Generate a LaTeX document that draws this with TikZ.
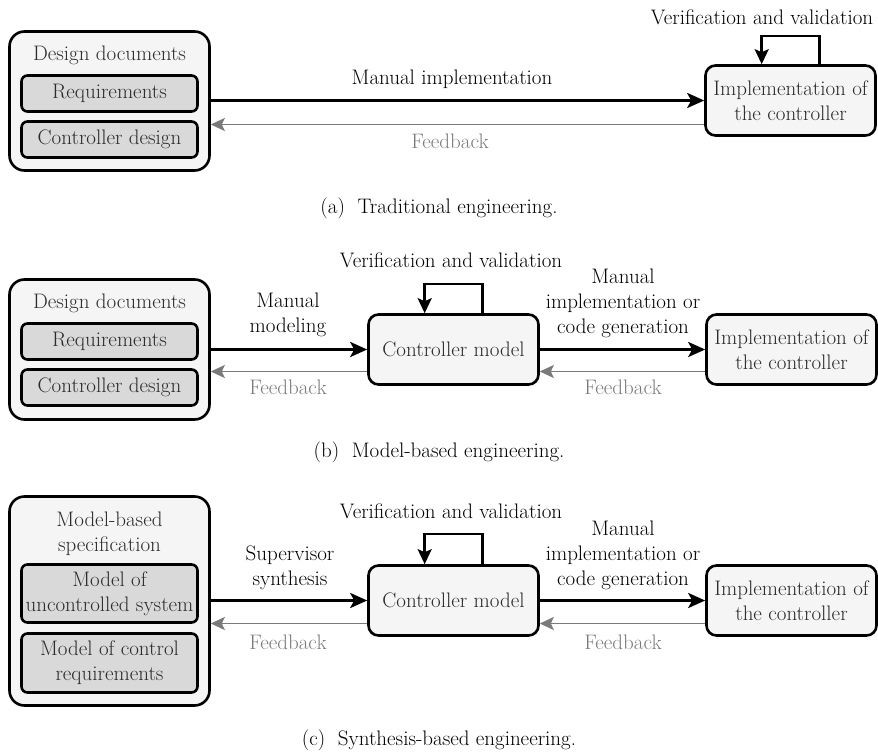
\documentclass[tikz,border=0pt]{standalone}
\usetikzlibrary{arrows.meta,calc}
\definecolor{boxfill}{HTML}{F5F5F5}
\definecolor{partfill}{HTML}{D9D9D9}
\definecolor{boxtext}{HTML}{2B2B2B}
\definecolor{fbgray}{HTML}{7A7A7A}

\tikzset{
  txt/.style={font=\fontsize{21}{25}\selectfont, align=center, inner sep=0pt},
  outerbox/.style={draw, line width=2.6pt, fill=boxfill, rounded corners=15pt,
    minimum width=200pt, inner sep=0pt},
  partbox/.style={txt, draw, line width=2.6pt, fill=partfill, rounded corners=6pt,
    minimum width=176pt, text=boxtext},
  stagebox/.style={txt, draw, line width=2.6pt, fill=boxfill, rounded corners=10pt,
    minimum width=170pt, minimum height=70pt, text=boxtext},
  titletxt/.style={txt, text=boxtext},
  flowlbl/.style={txt},
  fblbl/.style={txt, text=fbgray},
  caption/.style={txt},
  flow/.style={line width=2.8pt, -{Stealth[length=17pt,width=15pt,inset=4pt]}},
  fb/.style={line width=1.6pt, draw=fbgray, fill=fbgray,
    -{Stealth[length=14pt,width=13pt,inset=3pt]}},
  selfloop/.style={line width=2.4pt, -{Stealth[length=15pt,width=14pt,inset=3pt]}},
}

\begin{document}
\begin{tikzpicture}[x=1pt, y=-1pt]
\useasboundingbox (0,0) rectangle (878,752);

% ---------------- (a) traditional engineering ----------------
\node[outerbox, minimum height=139pt] (docA) at (109.5,101) {};
\node[titletxt] (docAt) at (109.5,55) {Design documents};
\node[partbox, minimum height=36pt] (reqA) at (109.5,93.5) {Requirements};
\node[partbox, minimum height=36pt] (desA) at (109.5,139.5) {Controller design};
\node[stagebox] (implA) at (790.5,100.5) {Implementation of\\the controller};

\draw[flow] (implA.west -| docA.east) -- (implA.west);
\node[flowlbl] (mA) at (452,79) {Manual implementation};
\draw[fb] ([yshift=-24pt]implA.west) -- ([yshift=-24pt]implA.west -| docA.east);
\node[fblbl] (fA) at (450,141) {Feedback};

\draw[selfloop] ($(implA.north west)!0.667!(implA.north east)$) -- ++(0,-28)
  -| ($(implA.north west)!0.333!(implA.north east)$);
\node[flowlbl] (vA) at (762,17) {Verification and validation};

\node[caption] (capA) at (439,208) {(a)\hspace{0.6em}Traditional engineering.};

% ---------------- (b) model-based engineering ----------------
\node[outerbox, minimum height=140pt] (docB) at (109.5,349.5) {};
\node[titletxt] (docBt) at (109.5,303) {Design documents};
\node[partbox, minimum height=36pt] (reqB) at (109.5,341.5) {Requirements};
\node[partbox, minimum height=36pt] (desB) at (109.5,387.5) {Controller design};
\node[stagebox] (ctrlB) at (453.5,349.5) {Controller model};
\node[stagebox] (implB) at (791.5,349.5) {Implementation of\\the controller};

\draw[flow] (ctrlB.west -| docB.east) -- (ctrlB.west);
\node[flowlbl] (mB) at (288,315) {Manual\\modeling};
\draw[fb] ([yshift=-22pt]ctrlB.west) -- ([yshift=-22pt]ctrlB.west -| docB.east);
\node[fblbl] (fB1) at (288,387) {Feedback};

\draw[flow] (ctrlB.east) -- (implB.west);
\node[flowlbl] (gB) at (623,303) {Manual\\implementation or\\code generation};
\draw[fb] ([yshift=-22pt]implB.west) -- ([yshift=-22pt]implB.west -| ctrlB.east);
\node[fblbl] (fB2) at (623,387) {Feedback};

\draw[selfloop] ($(ctrlB.north west)!0.667!(ctrlB.north east)$) -- ++(0,-29)
  -| ($(ctrlB.north west)!0.333!(ctrlB.north east)$);
\node[flowlbl] (vB) at (451,260) {Verification and validation};

\node[caption] (capB) at (439,452) {(b)\hspace{0.6em}Model-based engineering.};

% ---------------- (c) synthesis-based engineering ----------------
\node[outerbox, minimum height=209pt] (docC) at (109.5,601) {};
\node[titletxt] (docCt) at (109.5,533.5) {Model-based\\specification};
\node[partbox, minimum height=58pt] (plantC) at (109.5,593.5) {Model of\\uncontrolled system};
\node[partbox, minimum height=59pt] (reqC) at (109.5,663) {Model of control\\requirements};
\node[stagebox] (ctrlC) at (453.5,600.5) {Controller model};
\node[stagebox] (implC) at (791.5,600.5) {Implementation of\\the controller};

\draw[flow] (ctrlC.west -| docC.east) -- (ctrlC.west);
\node[flowlbl] (sC) at (290,568) {Supervisor\\synthesis};
\draw[fb] ([yshift=-23pt]ctrlC.west) -- ([yshift=-23pt]ctrlC.west -| docC.east);
\node[fblbl] (fC1) at (288,642) {Feedback};

\draw[flow] (ctrlC.east) -- (implC.west);
\node[flowlbl] (gC) at (623,555) {Manual\\implementation or\\code generation};
\draw[fb] ([yshift=-23pt]implC.west) -- ([yshift=-23pt]implC.west -| ctrlC.east);
\node[fblbl] (fC2) at (623,642) {Feedback};

\draw[selfloop] ($(ctrlC.north west)!0.667!(ctrlC.north east)$) -- ++(0,-30)
  -| ($(ctrlC.north west)!0.333!(ctrlC.north east)$);
\node[flowlbl] (vC) at (451,511) {Verification and validation};

\node[caption] (capC) at (439,740) {(c)\hspace{0.6em}Synthesis-based engineering.};
\end{tikzpicture}
\end{document}
